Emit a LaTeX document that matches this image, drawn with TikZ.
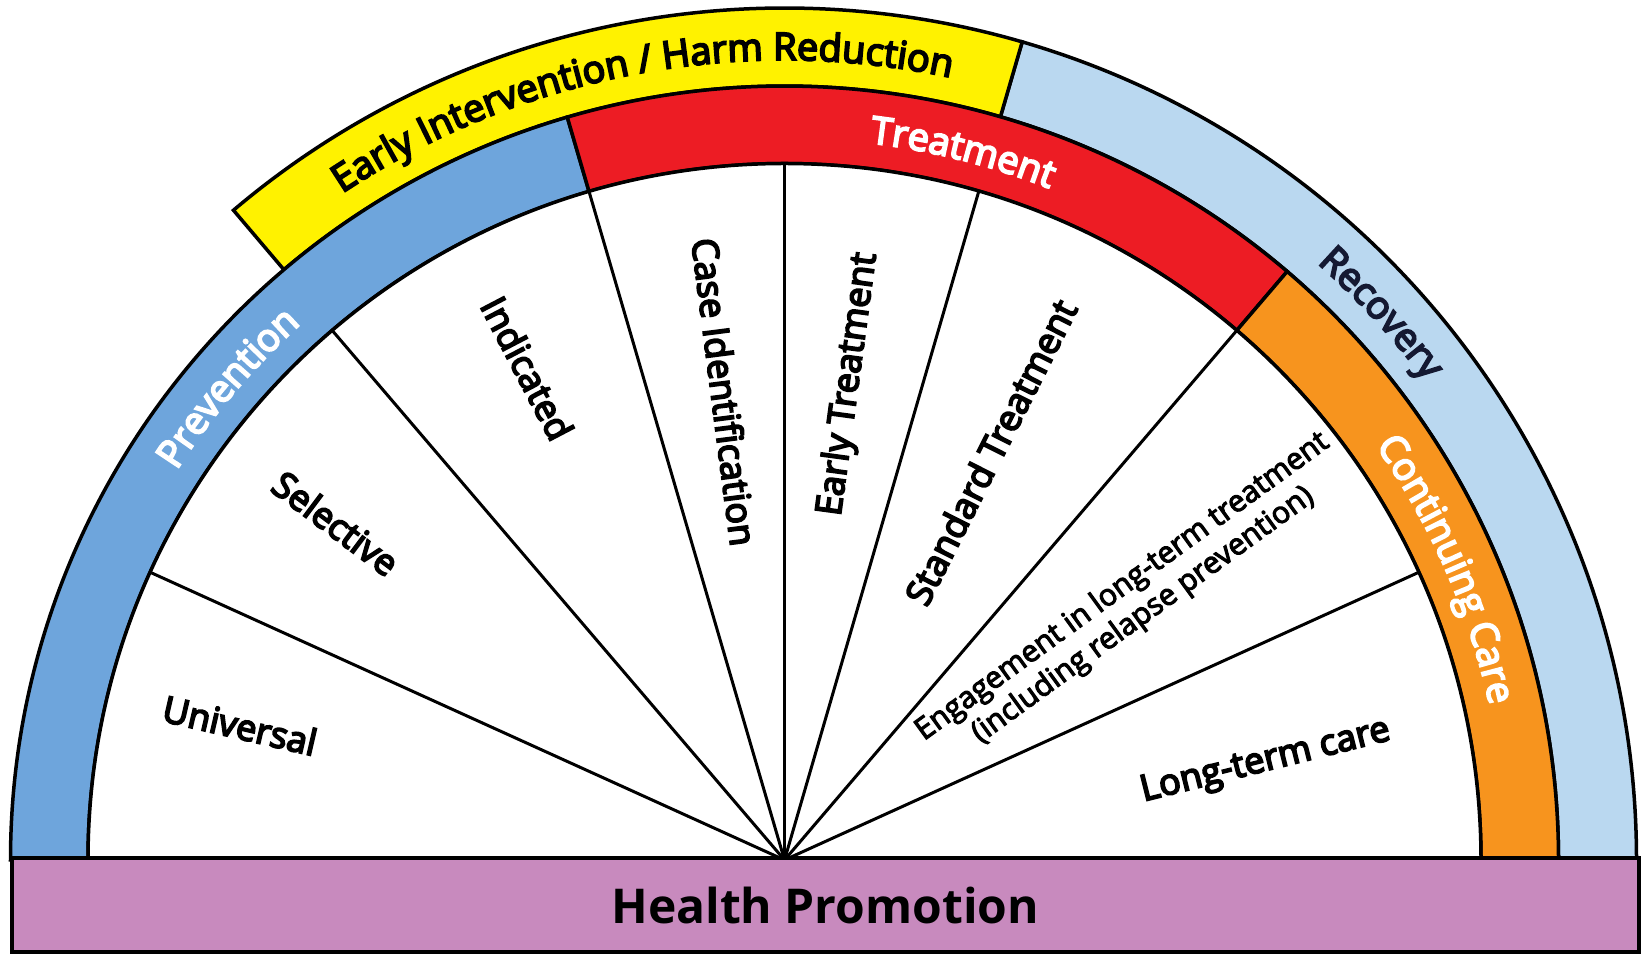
\documentclass[tikz,border=0pt]{standalone}
\usepackage{fontspec}
\setmainfont{Open Sans}
\newfontfamily\lblfont{Open Sans}[FakeBold=5]
\newfontfamily\smfont{Open Sans}[FakeBold=3.5]
\usetikzlibrary{decorations.text}
\definecolor{prevblue}{RGB}{110,165,220}
\definecolor{recblue}{RGB}{186,216,240}
\definecolor{eiyellow}{RGB}{255,242,0}
\definecolor{trred}{RGB}{237,28,36}
\definecolor{ccorange}{RGB}{247,148,30}
\definecolor{hppurple}{RGB}{200,138,190}
\definecolor{navytext}{RGB}{20,25,50}
\newcommand{\ringseg}[5]{\filldraw[ring,fill=#1] (#2:#4pt) arc[start angle=#2,end angle=#3,radius=#4pt] -- (#3:#5pt) arc[start angle=#3,end angle=#2,radius=#5pt] -- cycle;}
\newcommand{\ringfont}{\lblfont\fontsize{38}{40}\selectfont}
\begin{document}
\begin{tikzpicture}[x=1pt,y=1pt,
  ring/.style={draw=black,line width=3.5pt,line join=miter},
  fanline/.style={draw=black,line width=3pt},
  lbl/.style={font=\lblfont\fontsize{36}{40}\selectfont,inner sep=0pt,align=center},
  smalllbl/.style={font=\smfont\fontsize{30}{35}\selectfont,inner sep=0pt,align=center},
  curved/.style={decorate,decoration={text along path,text align=center,text={|\ringfont|#1}}},
  curvedwhite/.style={decorate,decoration={text along path,text align=center,text color=white,text={|\ringfont|#1}}},
  curvednavy/.style={decorate,decoration={text along path,text align=center,text color=navytext,text={|\ringfont|#1}}},
  hpbar/.style={draw=black,line width=3.5pt,fill=hppurple,inner sep=0pt,font=\bfseries\fontsize{48}{52}\selectfont}]
\useasboundingbox (0,0) rectangle (1647,958);
\begin{scope}[shift={(784.5,98)}]
  \coordinate (O) at (0,0);
  % outer ring
  \ringseg{recblue}{0}{73.8}{774}{852}
  \ringseg{eiyellow}{73.8}{130.3}{774}{852}
  % inner ring
  \ringseg{prevblue}{106.3}{180}{696.5}{774}
  \ringseg{trred}{49.5}{106.3}{696.5}{774}
  \ringseg{ccorange}{0}{49.5}{696.5}{774}
  % white fan
  \filldraw[ring,fill=white] (0:696.5pt) arc[start angle=0,end angle=180,radius=696.5pt] -- cycle;
  % fan lines
  \foreach \a/\n in {24.4/f1,49.5/f2,73.8/f3,90/f4,106.3/f5,130.5/f6,155.6/f7}{
    \coordinate (\n) at (\a:696.5pt);
    \draw[fanline] (O) -- (\n);
  }
  % sector labels
  \node[lbl,rotate=-13] (universal) at (166.1:561) {Universal};
  \node[lbl,rotate=-36.9] (selective) at (143.1:561) {Selective};
  \node[lbl,rotate=-62.4] (indicated) at (117.6:555) {Indicated};
  \node[lbl,rotate=-82.7] (caseid) at (97.3:472) {Case Identification};
  \node[lbl,rotate=82.3] (earlyt) at (82.3:480) {Early Treatment};
  \node[lbl,rotate=63.2] (standard) at (63.2:457) {Standard Treatment};
  \node[smalllbl,rotate=36] (engage) at (36.6:434) {Engagement in long-term treatment\\(including relapse prevention)};
  \node[lbl,rotate=14] (longterm) at (11.5:491) {Long-term care};
  % ring labels
  \path[curvedwhite={Prevention}] (155:722) arc[start angle=155,end angle=124.4,radius=722pt];
  \path[curvedwhite={Treatment}] (90:722) arc[start angle=90,end angle=61.7,radius=722pt];
  \path[curvedwhite={Continuing Care}] (41:722) arc[start angle=41,end angle=6.4,radius=722pt];
  \path[curved={Early Intervention / Harm Reduction}] (125:800) arc[start angle=125,end angle=76.6,radius=800pt];
  \path[curvednavy={Recovery}] (60:800) arc[start angle=60,end angle=25,radius=800pt];
  % health promotion bar
  \node[hpbar,anchor=south west,minimum width=1627pt,minimum height=94pt] (hp) at (-774.5,-94) {Health Promotion};
\end{scope}
\end{tikzpicture}
\end{document}
